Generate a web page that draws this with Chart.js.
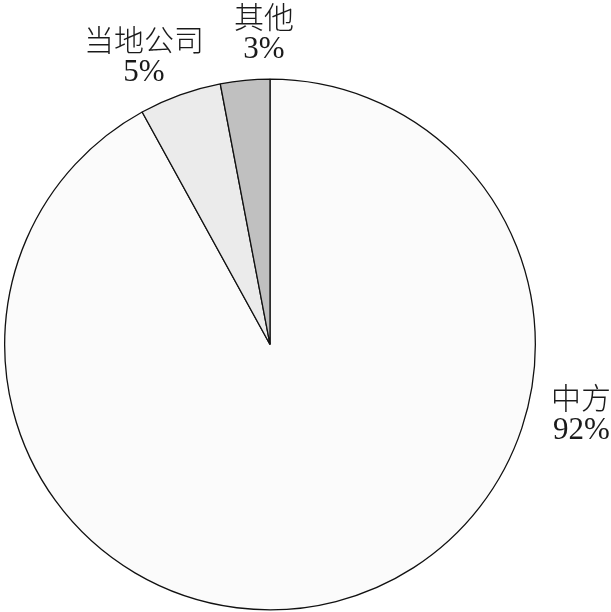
<!DOCTYPE html>
<html>
<head>
<meta charset="utf-8">
<script src="https://cdn.jsdelivr.net/npm/chart.js@4/dist/chart.umd.min.js"></script>
<style>
html,body{margin:0;padding:0;background:#fff;}
#wrap{position:relative;width:611px;height:612px;}
</style>
</head>
<body>
<div id="wrap"><canvas id="c" width="611" height="612"></canvas></div>
<script>
const categories = ['中方', '当地公司', '其他'];
const shares = [92, 5, 3];
const shareLabels = ['92%', '5%', '3%'];
const sliceColors = ['#fbfbfb', '#ebebeb', '#c0c0c0'];

// label anchor placement (text centre x, first line centre y, alignment)
const labelPlacement = [
  {x: 551, y: 398, align: 'left'},
  {x: 144, y: 40, align: 'center'},
  {x: 264, y: 17, align: 'center'}
];

const labelPlugin = {
  id: 'sliceLabels',
  afterDraw(chart) {
    const ctx = chart.ctx;
    ctx.save();
    ctx.fillStyle = '#1a1a1a';
    ctx.textBaseline = 'middle';
    categories.forEach((cat, i) => {
      const p = labelPlacement[i];
      ctx.textAlign = p.align;
      ctx.font = '300 30px "Noto Sans CJK SC", "Liberation Serif", serif';
      ctx.fillText(cat, p.x, p.y);
      ctx.font = '31px "Liberation Serif", serif';
      const dx = p.align === 'left' ? 2 : 0;
      ctx.fillText(shareLabels[i], p.x + dx, p.y + 33);
    });
    ctx.restore();
  }
};

new Chart(document.getElementById('c'), {
  type: 'pie',
  data: {
    labels: categories,
    datasets: [{
      data: shares,
      backgroundColor: sliceColors,
      borderColor: '#111',
      borderWidth: 1.3,
      borderAlign: 'center'
    }]
  },
  options: {
    responsive: false,
    animation: false,
    rotation: 0,
    layout: {padding: {top: 78, left: 4, right: 75, bottom: 1}},
    plugins: {
      legend: {display: false},
      tooltip: {enabled: false}
    }
  },
  plugins: [labelPlugin]
});
</script>
</body>
</html>
